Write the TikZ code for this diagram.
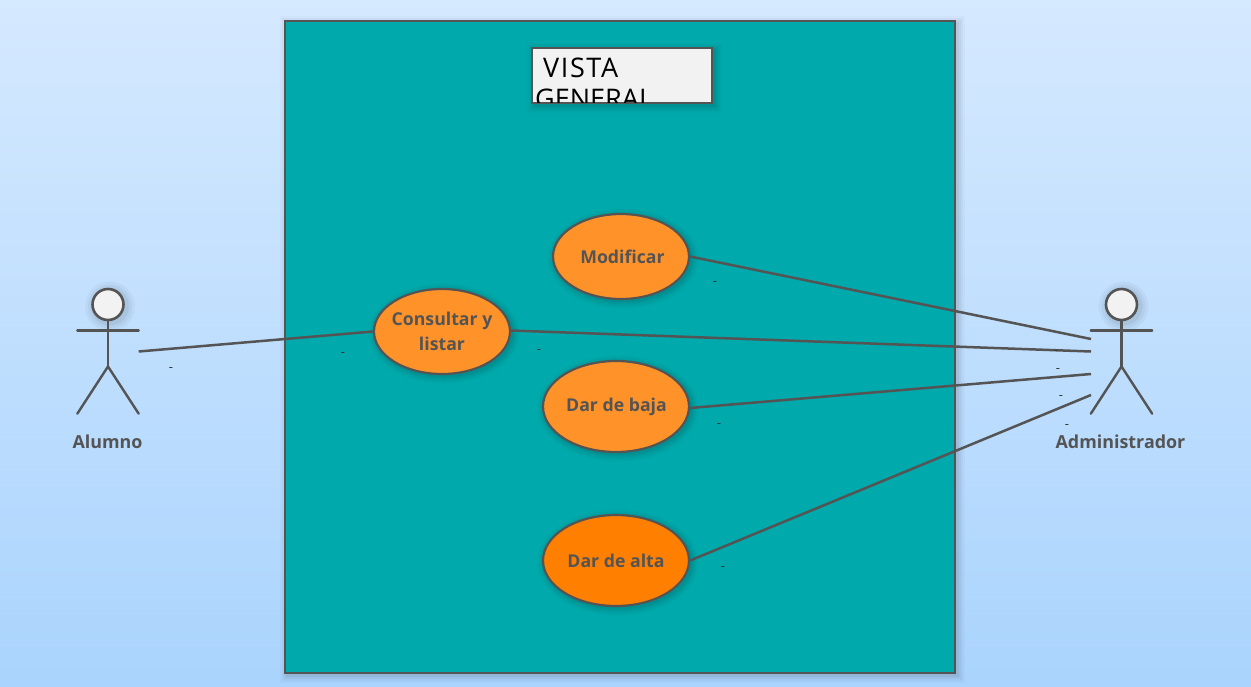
\documentclass[tikz,border=0pt]{standalone}
\usepackage{fontspec}
\setmainfont{Open Sans}
\definecolor{ink}{HTML}{545454}
\definecolor{teal0}{HTML}{00A9AB}
\definecolor{orgA}{HTML}{FF9329}
\definecolor{orgB}{HTML}{FF7F00}
\definecolor{paper}{HTML}{F2F2F2}
\definecolor{skytop}{HTML}{D5E9FF}
\definecolor{skybot}{HTML}{AAD4FD}
\tikzset{
  softshadow/.style={
    preaction={draw=black,opacity=.02,line width=15pt,transform canvas={xshift=2pt,yshift=-2pt}},
    preaction={draw=black,opacity=.03,line width=11pt,transform canvas={xshift=2pt,yshift=-2pt}},
    preaction={draw=black,opacity=.04,line width=7pt,transform canvas={xshift=2pt,yshift=-2pt}},
    preaction={draw=black,opacity=.05,line width=3pt,transform canvas={xshift=2pt,yshift=-2pt}}},
  usecase/.style={ellipse,draw=ink,line width=2.2pt,inner sep=0pt,minimum width=#1,softshadow,
    font=\fontsize{17.7}{24.5}\selectfont\bfseries,text=ink,align=center},
  conn/.style={draw=ink,line width=2.5pt},
  limb/.style={draw=ink,line width=2.4pt,line cap=round},
  actorbox/.style={minimum width=61pt,minimum height=124pt,inner sep=0pt},
  actorlabel/.style={font=\fontsize{17.9}{22}\selectfont\bfseries,text=ink,inner sep=0pt},
  tick/.style={font=\fontsize{13}{13}\selectfont,text=ink!60!black,inner sep=0pt},
  titletext/.style={anchor=base west,inner sep=0pt,font=\fontsize{27}{30}\selectfont,text=black},
}
\usetikzlibrary{shapes.geometric}
\begin{document}
\begin{tikzpicture}[x=1pt,y=-1pt]
\useasboundingbox (0,0) rectangle (1251,686);
\shade[top color=skytop,bottom color=skybot] (0,0) rectangle (1251,686);

% frame
\path[fill=teal0,draw=ink,line width=2.6pt,softshadow] (285,21) rectangle (955,673);

% title
\path[fill=paper,draw=ink,line width=2.6pt,softshadow] (532,48) rectangle (712,103);
\begin{scope}
  \clip (533,49) rectangle (711,102);
  \node[titletext] (vista) at (543,77) {\addfontfeature{LetterSpace=6}VISTA};
  \node[titletext] (general) at (535,108) {GENERAL};
\end{scope}

% use cases
\node[usecase=136pt,minimum height=85pt,fill=orgA] (mod) at (621,256.5) {\hspace{3pt}Modificar};
\node[usecase=136pt,minimum height=85pt,fill=orgA,inner xsep=-5pt] (con) at (442,331.5) {\raisebox{.6pt}{Consultar y}\\listar};
\node[usecase=146pt,minimum height=91pt,fill=orgA] (baj) at (616,406.5) {\raisebox{-1pt}{\hspace{1pt}Dar de baja}};
\node[usecase=146pt,minimum height=91pt,fill=orgB] (alt) at (616,560.5) {Dar de alta};

% actors
\node[actorbox] (alumno) at (108,351.5) {};
\node[actorbox] (admin) at (1121.5,351.5) {};
\foreach \a in {alumno,admin}{
  \path[fill=black,opacity=.03] ([xshift=2pt,yshift=45pt]\a.center) circle (25pt);
  \path[fill=black,opacity=.04] ([xshift=2pt,yshift=45pt]\a.center) circle (22pt);
  \path[fill=black,opacity=.05] ([xshift=2pt,yshift=45pt]\a.center) circle (19pt);
  \path[fill=paper,draw=ink,line width=2.6pt] ([yshift=47pt]\a.center) circle (15.5pt);
  \draw[limb] ([yshift=31pt]\a.center) -- ([yshift=-15pt]\a.center);
  \draw[limb] ([yshift=21pt]\a.west) -- ([yshift=21pt]\a.east);
  \draw[limb] (\a.south west) -- ([yshift=-15pt]\a.center) -- (\a.south east);
}
\node[actorlabel] (lalumno) at (107.5,441.5) {Alumno};
\node[actorlabel] (ladmin) at (1120.5,441.5) {Administrador};

% connectors
\coordinate (a1) at (1091,339);
\coordinate (a2) at (1091,351.5);
\coordinate (a3) at (1091,374);
\coordinate (a4) at (1091,395);
\draw[conn] (alumno.east) -- (con.west);
\draw[conn] (mod.east) -- (a1);
\draw[conn] ([yshift=1pt]con.east) -- (a2);
\draw[conn] ([yshift=-1.5pt]baj.east) -- (a3);
\draw[conn] (alt.east) -- (a4);

% small labels
\node[tick] (t1) at (171,370) {-};
\node[tick] (t2) at (343,355) {-};
\node[tick] (t3) at (539,352) {-};
\node[tick] (t4) at (715,284) {-};
\node[tick] (t5) at (719,426) {-};
\node[tick] (t6) at (723,568.5) {-};
\node[tick] (t7) at (1056,353) {-};
\node[tick] (t8) at (1058,371) {-};
\node[tick] (t9) at (1061,398) {-};
\node[tick] (t10) at (1067,427) {-};
\end{tikzpicture}
\end{document}
